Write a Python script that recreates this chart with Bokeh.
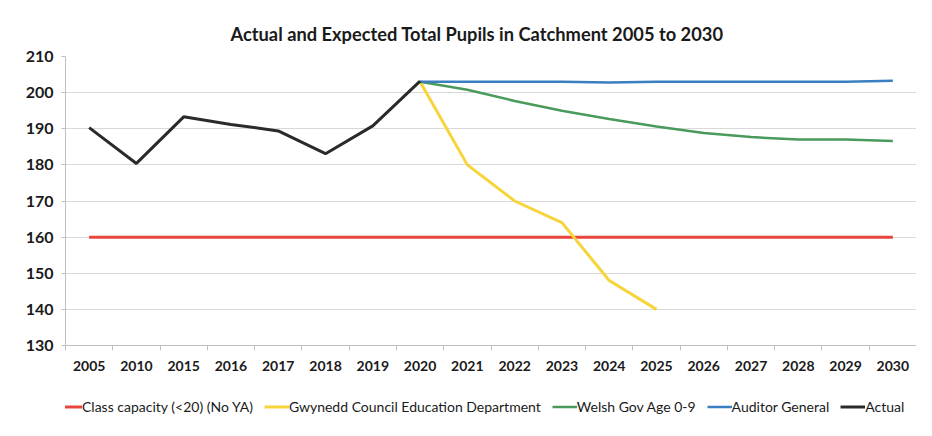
from bokeh.plotting import figure
from bokeh.layouts import column
from bokeh.models import FixedTicker, Legend, LegendItem
from bokeh.embed import file_html
from bokeh.resources import INLINE

years = ["2005", "2010", "2015", "2016", "2017", "2018", "2019", "2020", "2021",
         "2022", "2023", "2024", "2025", "2026", "2027", "2028", "2029", "2030"]

capacity = [160] * 18
gwynedd_years = ["2020", "2021", "2022", "2023", "2024", "2025"]
gwynedd = [203, 180, 170, 164, 148, 140]
welsh_years = ["2020", "2021", "2022", "2023", "2024", "2025", "2026", "2027", "2028", "2029", "2030"]
welsh = [203, 200.8, 197.7, 195, 192.7, 190.6, 188.8, 187.7, 187, 187, 186.6]
auditor_years = welsh_years
auditor = [203, 203, 203, 203, 202.8, 203, 203, 203, 203, 203, 203.3]
actual_years = ["2005", "2010", "2015", "2016", "2017", "2018", "2019", "2020"]
actual = [190.3, 180.4, 193.3, 191.2, 189.4, 183.1, 190.8, 203.2]

series_names = ["Class capacity (<20) (No YA)", "Gwynedd Council Education Department",
                "Welsh Gov Age 0-9", "Auditor General", "Actual"]
series_colors = ["#e8453c", "#f6d43a", "#4a9a5c", "#3a7fc1", "#2a2a2a"]
series_widths = [3, 3, 2.5, 2.5, 3]

idx = {y: i for i, y in enumerate(years)}

FONT = "Lato"

p = figure(width=916, height=393, output_backend="svg", toolbar_location=None,
           x_range=(-0.5, len(years) - 0.5), y_range=(130, 210),
           min_border_left=65, min_border_right=0, min_border_top=56, min_border_bottom=48)

p.title.text = "Actual and Expected Total Pupils in Catchment 2005 to 2030"
p.title.align = "left"
p.title.text_font = FONT
p.title.text_font_size = "18.3px"
p.title.text_font_style = "bold"
p.title.text_color = "#1a1a1a"
p.title.offset = 165
p.title.standoff = 24

p.outline_line_color = None
p.background_fill_color = "white"
p.border_fill_color = "white"

p.xaxis.ticker = FixedTicker(ticks=list(range(len(years))),
                             minor_ticks=[i - 0.5 for i in range(len(years) + 1)])
p.xaxis.major_label_overrides = {i: y for i, y in enumerate(years)}
p.xaxis.major_tick_line_color = None
p.xaxis.major_tick_out = 5
p.xaxis.minor_tick_out = 5
p.xaxis.minor_tick_in = 0
p.xaxis.minor_tick_line_color = "#bfbfbf"
p.xaxis.axis_line_color = "#bfbfbf"
p.xaxis.major_label_text_font = FONT
p.xaxis.major_label_text_font_size = "14px"
p.xaxis.major_label_text_font_style = "bold"
p.xaxis.major_label_text_color = "#1a1a1a"
p.xaxis.major_label_standoff = 10

p.yaxis.ticker = FixedTicker(ticks=list(range(130, 211, 10)))
p.yaxis.minor_tick_line_color = None
p.yaxis.major_tick_out = 4
p.yaxis.major_tick_in = 0
p.yaxis.major_tick_line_color = "#bfbfbf"
p.yaxis.axis_line_color = "#bfbfbf"
p.yaxis.major_label_text_font = FONT
p.yaxis.major_label_text_font_size = "16px"
p.yaxis.major_label_text_font_style = "bold"
p.yaxis.major_label_text_color = "#1a1a1a"
p.yaxis.major_label_standoff = 8

p.xgrid.grid_line_color = None
p.ygrid.grid_line_color = "#d9d9d9"
p.ygrid.ticker = FixedTicker(ticks=list(range(140, 211, 10)))

series = [(years, capacity), (gwynedd_years, gwynedd), (welsh_years, welsh),
          (auditor_years, auditor), (actual_years, actual)]
for (xs, ys), c, w in zip(series, series_colors, series_widths):
    p.line([idx[y] for y in xs], ys, line_color=c, line_width=w)

# legend strip below the chart (same series, plotted outside this strip's visible range)
lg = figure(width=916, height=27, output_backend="svg", toolbar_location=None,
            x_range=(-0.5, len(years) - 0.5), y_range=(0, 1),
            x_axis_location=None, y_axis_location=None,
            min_border_left=0, min_border_right=0, min_border_top=0, min_border_bottom=0)
lg.grid.grid_line_color = None
lg.outline_line_color = None
lg.border_fill_color = "white"
items = []
for (xs, ys), name, c, w in zip(series, series_names, series_colors, series_widths):
    r = lg.line([idx[y] for y in xs], ys, line_color=c, line_width=w)
    items.append(LegendItem(label=name, renderers=[r]))

legend = Legend(items=items, orientation="horizontal", location=(-8, 0))
legend.glyph_width = 25
legend.glyph_height = 27
legend.label_height = 27
legend.label_standoff = 0
legend.spacing = 11
legend.padding = 0
legend.margin = 0
legend.border_line_color = None
legend.background_fill_alpha = 0
legend.label_text_font = FONT
legend.label_text_font_size = "14px"
legend.label_text_color = "#1a1a1a"
lg.add_layout(legend, "center")

layout = column(p, lg, spacing=0)
open("out.html", "w").write(file_html(layout, INLINE))
